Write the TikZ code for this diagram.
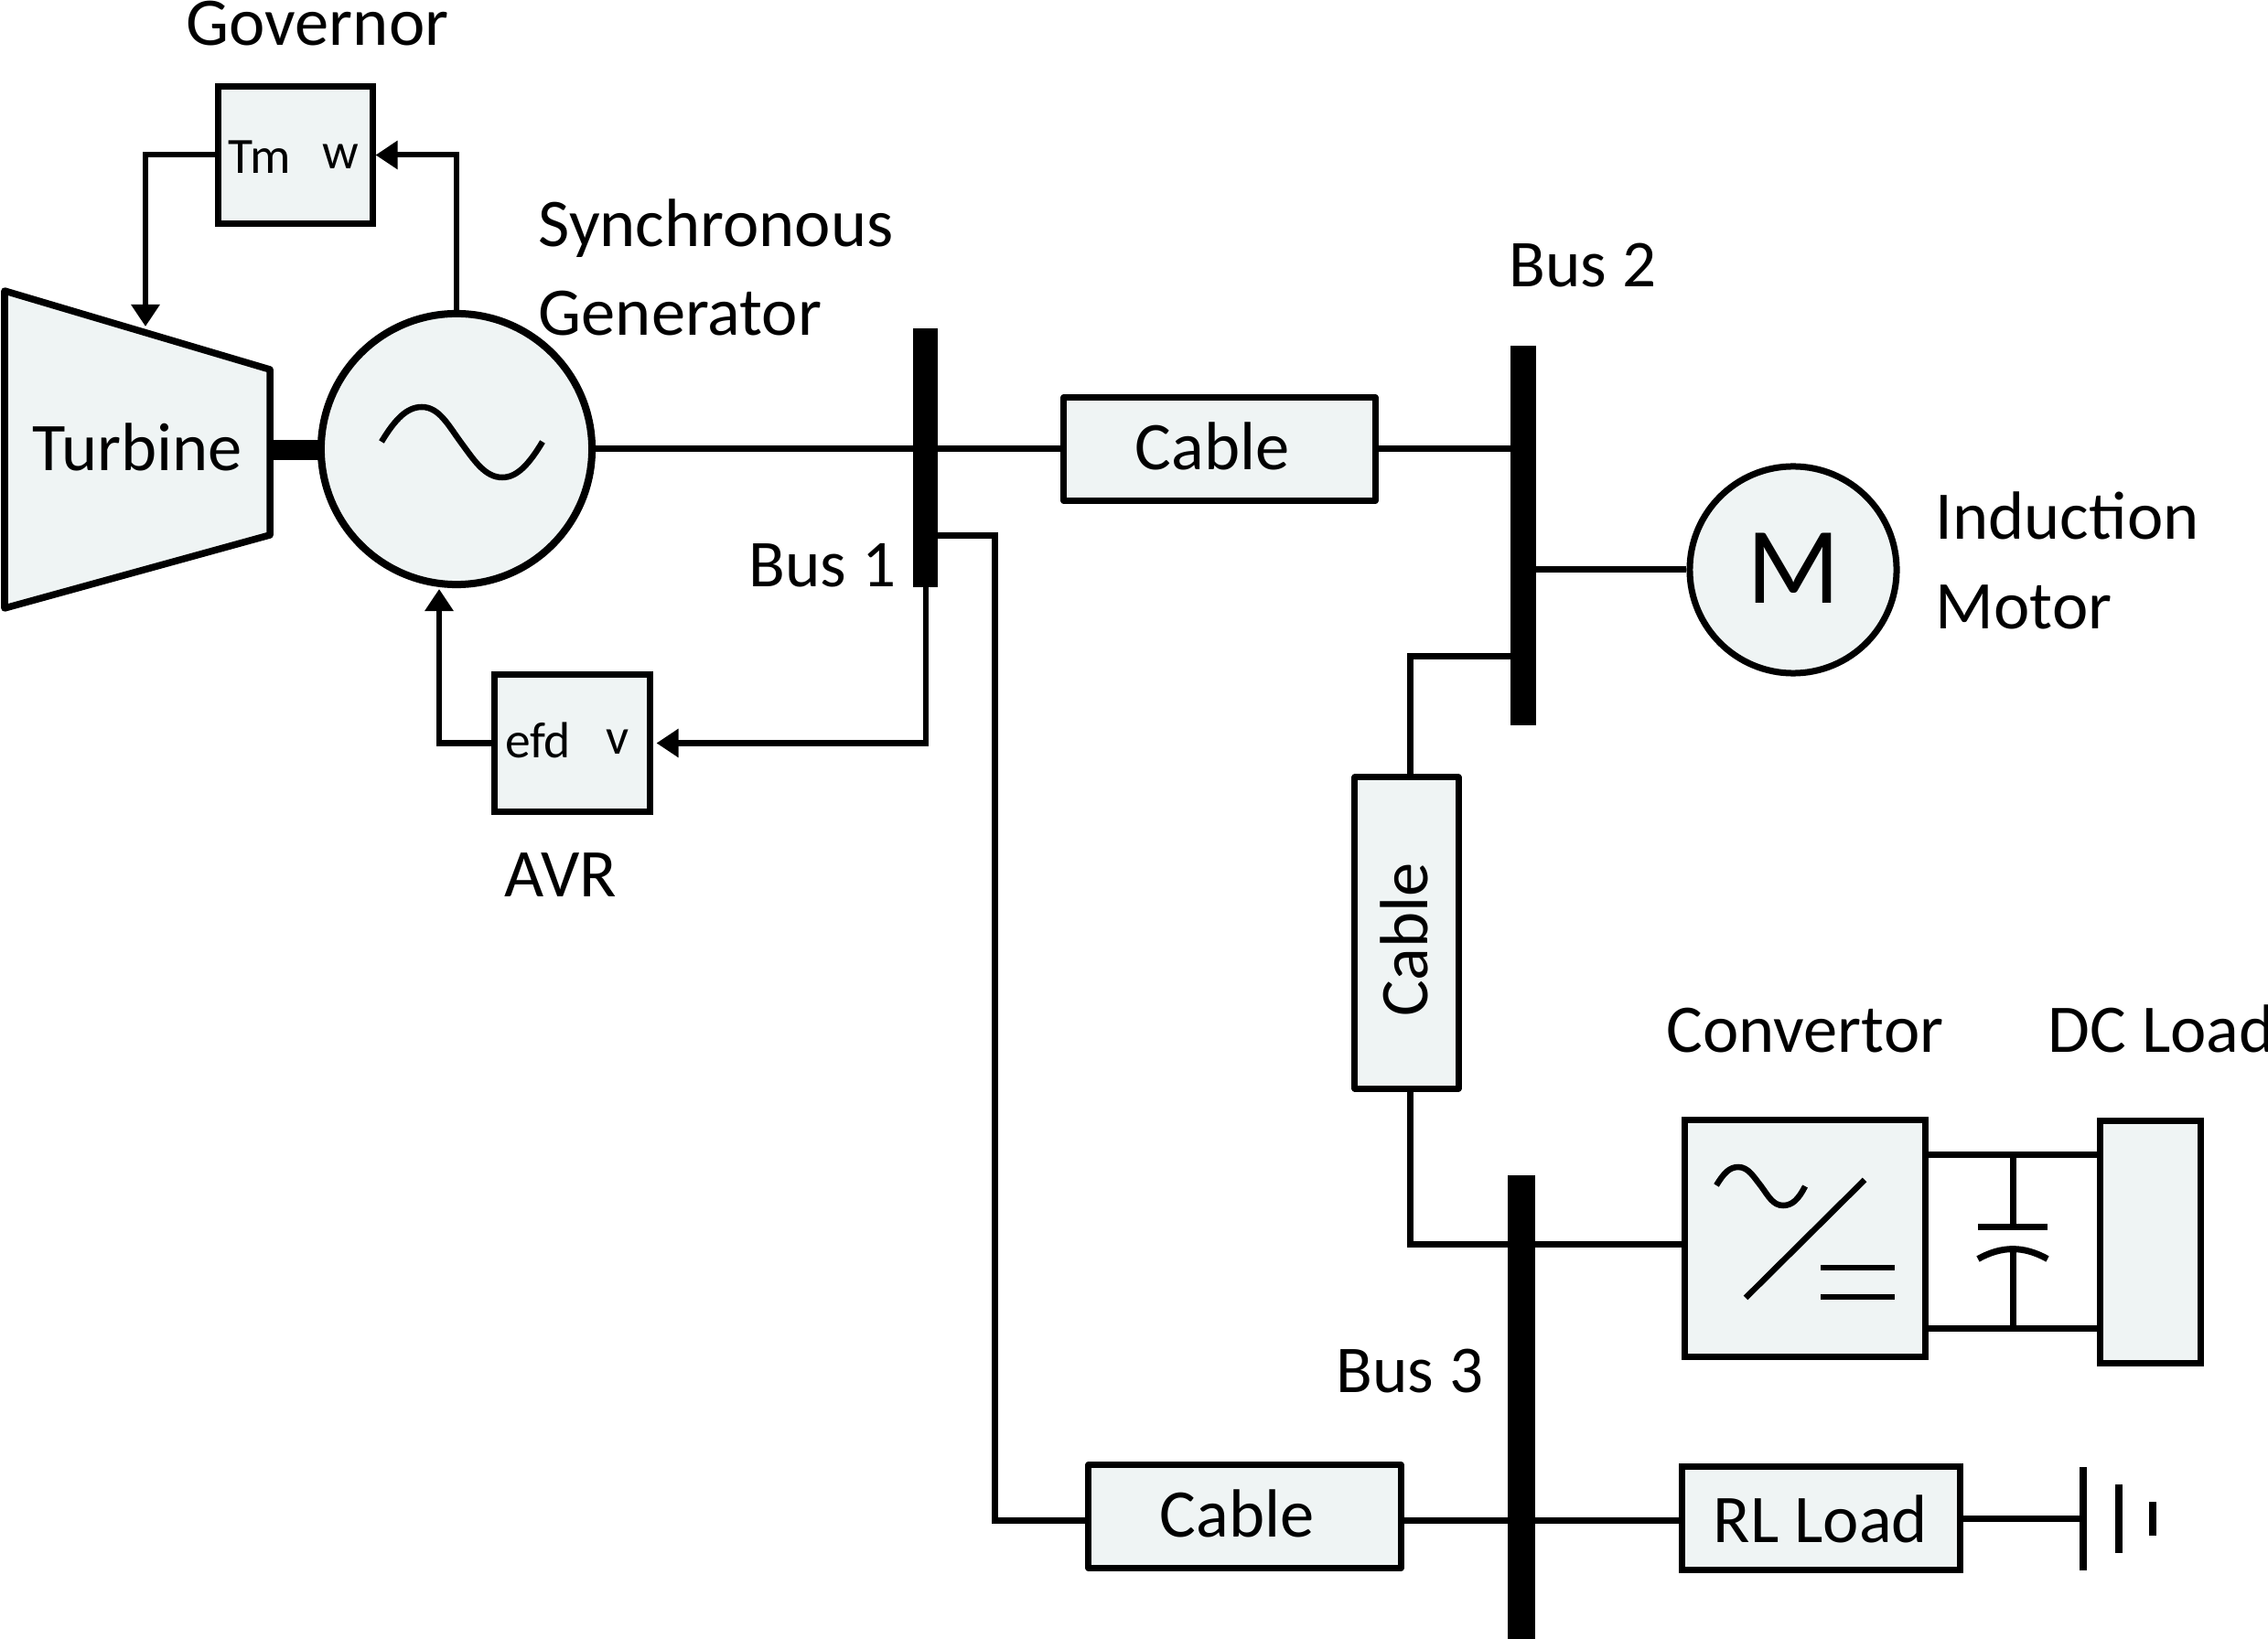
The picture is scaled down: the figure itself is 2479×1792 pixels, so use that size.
\documentclass[tikz,border=0pt]{standalone}
\usepackage{fontspec}
\setmainfont{Carlito}
\usetikzlibrary{arrows.meta}
\definecolor{panel}{HTML}{EFF4F4}
\tikzset{
  box/.style={draw,fill=panel,line width=0.07cm,inner sep=0pt},
  cablebox/.style={box,line join=round},
  machine/.style={draw,fill=panel,circle,inner sep=0pt},
  busbar/.style={fill=black,inner sep=0pt,outer sep=0pt},
  lbl/.style={inner sep=0pt,anchor=base west,font=\fontsize{21.2}{25}\selectfont},
  buslbl/.style={lbl,font=\fontsize{20.8}{25}\selectfont},
  small/.style={inner sep=0pt,anchor=base,font=\fontsize{15.8}{19}\selectfont},
  wire/.style={line width=0.07cm},
  signal/.style={line width=0.06cm,-{Triangle[length=0.24cm,width=0.3cm]}},
  wave/.style={line width=0.065cm}
}
\begin{document}
\begin{tikzpicture}[x=0.01cm,y=-0.01cm]
        \useasboundingbox (0,0) rectangle (2479,1792);
        % free ends of the connectors
        \coordinate (turbin) at (159,357);
        \coordinate (genin) at (480,644);
        \coordinate (elbow) at (1087,586);
        \coordinate (line3) at (1663,1662);
        \coordinate (tap2) at (1541,718);
        \coordinate (tap3) at (1663,1360);
        \coordinate (rlout) at (2277,1660.5);
        \coordinate (dctop) at (2200,1262.5);
        \coordinate (dcbot) at (2200,1452);
        \node[box,minimum width=1.68cm,minimum height=1.5cm] (gov) at (323,169.5) {};
        \node[box,minimum width=1.69cm,minimum height=1.5cm] (avr) at (625.5,812.5) {};
        \node[cablebox,minimum width=3.4cm,minimum height=1.13cm] (cab1) at (1333,491) {};
        \node[cablebox,minimum width=1.13cm,minimum height=3.4cm] (cab2) at (1537.5,1020) {};
        \node[cablebox,minimum width=3.41cm,minimum height=1.13cm] (cab3) at (1360.5,1658) {};
        \node[box,minimum width=3.03cm,minimum height=1.13cm] (rl) at (1990.5,1660) {};
        \node[box,minimum width=2.62cm,minimum height=2.58cm] (conv) at (1973,1354) {};
        \node[box,minimum width=1.1cm,minimum height=2.64cm] (dc) at (2350,1358) {};
        \node[machine,line width=0.08cm,minimum size=2.96cm] (gen) at (499,491) {};
        \node[machine,line width=0.07cm,minimum size=2.26cm] (mot) at (1960,623) {};
        % turbine body and shaft
        \draw[fill=panel,line width=0.075cm,line join=round] (5,318) -- (295,404) -- (295,585) -- (5,665) -- cycle;
        \fill (295,481) rectangle (352,503);
        % connectors
        \draw[signal] (gov.west) -| (turbin);
        \draw[signal] (gen.north) |- (gov.east);
        \draw[signal] (avr.west) -| (genin);
        \draw[wire] (gen.east) -- (gen.east -| cab1.west);
        \draw[wire] (cab1.east) -- (cab1.east -| 1651,0);
        \draw[wire] (1679,623) -- (mot.west);
        \draw[wire] (1651,718) -- (tap2) -- (tap2 |- cab2.north);
        \draw[wire] (cab2.south -| tap2) |- (tap3) -- (tap3 -| conv.west);
        \draw[wire] (1025,586) -- (elbow) |- (cab3.west |- line3);
        \draw[wire] (cab3.east |- line3) -- (line3) -- (rl.west |- line3);
        \draw[wire] (rl.east |- rlout) -- (rlout);
        \draw[wire] (conv.east |- dctop) -- (dc.west |- dctop);
        \draw[wire] (conv.east |- dcbot) -- (dc.west |- dcbot);
        % buses
        \node[busbar,minimum width=0.27cm,minimum height=2.83cm] (bus1) at (1011.5,500.5) {};
        \node[busbar,minimum width=0.28cm,minimum height=4.15cm] (bus2) at (1665,585.5) {};
        \node[busbar,minimum width=0.3cm,minimum height=5.07cm] (bus3) at (1663,1538.5) {};
        \draw[signal,shorten >=0.04cm] (bus1.south) |- (avr.east);
        % capacitor
        \draw[wire] (dctop) -- (2200,1341);
        \draw[wire] (2162,1341) -- (2238,1341);
        \draw[wire] (2162,1376.5) .. controls (2188,1362) and (2212,1362) .. (2238,1376.5);
        \draw[wire] (2200,1365) -- (dcbot);
        % battery
        \draw[line width=0.075cm] (rlout) ++(0,-56.5) -- ++(0,113);
        \draw[line width=0.075cm] (2316,1623) -- (2316,1698);
        \draw[line width=0.075cm] (2353,1642) -- (2353,1679);
        % generator and converter symbols
        \draw[wave] (417,483) .. controls (432,458) and (445,445) .. (461,445) .. controls (480,445) and (490,465) .. (504,484) .. controls (518,503) and (530,522) .. (549,522) .. controls (565,522) and (578,508) .. (593,483);
        \draw[wave] (1876,1296) .. controls (1884,1283) and (1890,1276) .. (1900,1276) .. controls (1911,1276) and (1917,1287) .. (1925,1297) .. controls (1933,1308) and (1938,1318) .. (1949,1318) .. controls (1959,1318) and (1966,1311) .. (1973,1297);
        \draw[wave] (1908,1419) -- (2038,1290);
        \draw[wave] (1990,1386) -- (2071,1386);
        \draw[wave] (1990,1418) -- (2071,1418);
        % labels
        \node[lbl,anchor=base] (govtxt) at (347,50) {Governor};
        \node[small] (tm) at (284,190) {Tm};
        \node[small] (w) at (372,185) {w};
        \node[small] (efd) at (588,829) {efd};
        \node[small] (v) at (675,825) {v};
        \node[lbl] (syn) at (588,270) {Synchronous};
        \node[lbl] (gentxt) at (588,367) {Generator};
        \node[lbl] (turb) at (35,515) {Turbine};
        \node[buslbl] (b1) at (818,642) {Bus 1};
        \node[lbl,anchor=base] (avrtxt) at (613,981) {AVR};
        \node[lbl,anchor=base] (c1) at (1325,514) {Cable};
        \node[buslbl] (b2) at (1649,314) {Bus 2};
        \node[lbl,anchor=base,font=\fontsize{33.9}{40}\selectfont] (m) at (1960,660) {M};
        \node[lbl] (ind) at (2115,590) {Induction};
        \node[lbl] (mtr) at (2115,688) {Motor};
        \node[lbl,anchor=base,rotate=90] (c2) at (1560,1027.5) {Cable};
        \node[lbl] (conn) at (1821,1150) {Convertor};
        \node[lbl] (dctxt) at (2238,1150) {DC Load};
        \node[buslbl] (b3) at (1460,1522) {Bus 3};
        \node[lbl,anchor=base] (c3) at (1352,1680) {Cable};
        \node[lbl,anchor=base] (rltxt) at (1990,1686) {RL Load};
      \end{tikzpicture}
\end{document}
